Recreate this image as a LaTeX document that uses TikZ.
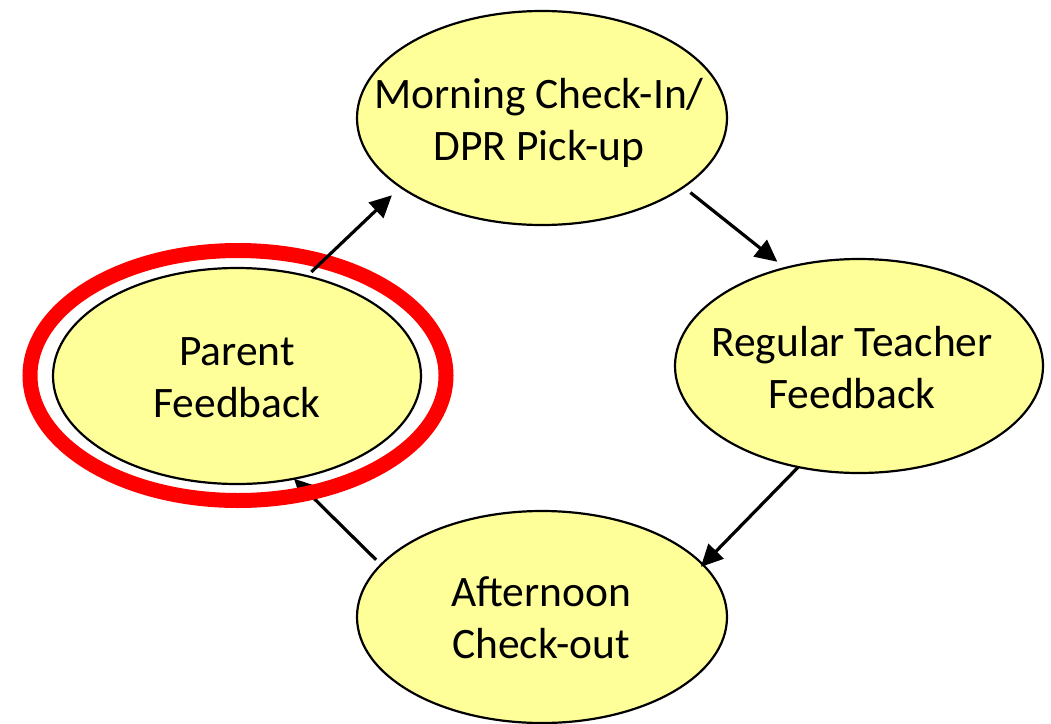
\documentclass[tikz,border=0pt]{standalone}
\usepackage{fontspec}
\setmainfont{Carlito}
\usetikzlibrary{shapes.geometric,arrows.meta}
\definecolor{fillyel}{RGB}{255,255,153}
\begin{document}
\begin{tikzpicture}[x=1pt,y=-1pt,
  blob/.style={ellipse, draw=black, line width=2.2pt, fill=fillyel, inner sep=0pt, outer sep=0pt},
  txt/.style={align=center, font=\fontsize{43.5}{52}\selectfont, inner sep=0pt, anchor=base},
  arr/.style={-{Triangle[length=22pt,width=21pt]}, line width=3.2pt},
  ring/.style={draw=red, line width=15pt}]
\useasboundingbox (0,0) rectangle (1051,723);
% ellipses
\node[blob, minimum width=370pt, minimum height=214pt] (top) at (542,118) {};
\node[blob, minimum width=368pt, minimum height=214pt] (right) at (859,366) {};
\node[blob, minimum width=370pt, minimum height=212pt] (bottom) at (542,617) {};
\node[blob, minimum width=368pt, minimum height=216pt] (left) at (237,376) {};
% texts (anchored at the baseline of the last line)
\node[txt] (ttop) at (539,160) {Morning Check-In/\\DPR Pick-up};
\node[txt] (tright) at (852,408) {Regular Teacher\\Feedback};
\node[txt] (tbottom) at (541,658) {Afternoon\\Check-out};
\node[txt] (tleft) at (237,417) {Parent\\Feedback};
% arrow under the ring
\draw[arr, shorten <=7pt] (bottom.162) -- (left.-61);
% highlight ring
\draw[ring] (238,375.5) ellipse [x radius=208, y radius=125];
% other arrows
\draw[arr, shorten <=6pt, shorten >=12pt] (left.55) -- (top.206);
\draw[arr, shorten <=9pt, shorten >=10pt] (top.-26) -- (right.127);
\draw[arr, shorten >=-3pt] (right.-121) -- (bottom.18);
\end{tikzpicture}
\end{document}
